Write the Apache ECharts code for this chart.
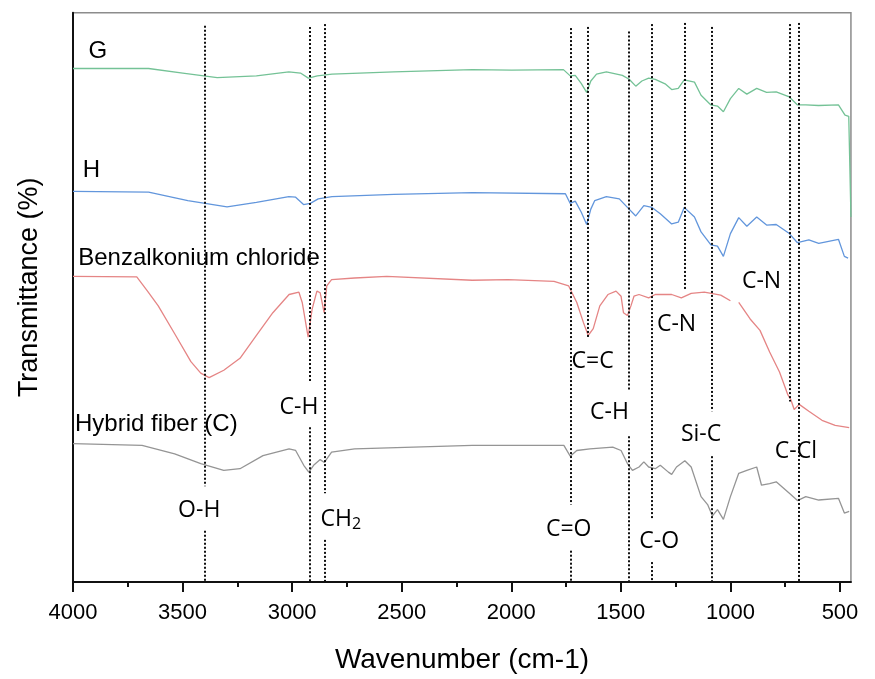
<!DOCTYPE html>
<html>
<head>
<meta charset="utf-8">
<script src="https://cdn.jsdelivr.net/npm/echarts@6/dist/echarts.min.js"></script>
<style>
html,body{margin:0;padding:0;background:#fff;overflow:hidden;}
#chart{width:875px;height:679px;}
</style>
</head>
<body>
<div id="chart"></div>
<script>
// ---- x axis ticks (wavenumber, cm-1) ----
const MAJOR_TICKS = [500, 1000, 1500, 2000, 2500, 3000, 3500, 4000];
const MINOR_TICKS = [750, 1250, 1750, 2250, 2750, 3250, 3750];

// ---- spectrum G ----
const G_WN = [4000,3655,3499,3342,3163,3015,2962,2926,2885,2818,2536,2178,1999,1762,1731,1708,1681,1656,1637,1611,1566,1493,1462,1432,1404,1373,1343,1298,1268,1238,1211,1164,1134,1089,1059,1032,1000,962,925,880,835,791,731,694,656,598,507,477,460,450];
const G_T  = [90.2,90.2,89.4,88.6,88.9,89.6,89.4,88.5,88.9,89.2,89.6,90.0,89.9,90.0,88.9,89.0,87.6,86.0,88.0,89.2,89.6,89.0,88.3,87.1,88.0,88.5,88.3,87.5,86.5,86.7,88.2,87.8,85.5,83.8,83.6,82.6,84.9,86.7,85.7,86.7,86.0,86.1,85.2,83.8,83.8,83.7,83.8,82.0,81.8,64.1];

// ---- spectrum H ----
const H_WN = [4000,3655,3476,3297,3163,3015,2984,2948,2917,2881,2818,2536,2178,1753,1731,1708,1681,1656,1637,1619,1566,1507,1470,1432,1395,1358,1320,1268,1238,1211,1164,1134,1089,1059,1032,1000,962,925,880,835,791,731,694,642,597,507,480,463];
const H_T  = [68.6,68.5,67.0,65.9,66.7,67.7,67.6,66.3,66.5,67.3,67.7,68.1,68.4,68.2,66.5,66.9,65.0,62.8,65.5,67.0,67.7,67.3,65.8,64.3,66.1,65.8,64.7,62.9,63.2,65.8,64.1,61.5,59.2,59.0,57.2,61.2,64.0,62.5,64.1,62.7,62.8,61.2,59.6,60.1,59.5,60.2,57.2,56.9];

// ---- Benzalkonium chloride ----
const B_WN = [4000,3709,3660,3611,3536,3462,3417,3379,3312,3238,3163,3088,3014,2969,2954,2947,2927,2909,2887,2872,2854,2842,2820,2715,2568,2178,2014,1805,1738,1701,1671,1649,1626,1596,1559,1522,1499,1488,1470,1454,1440,1417,1373,1343,1268,1224,1179,1119,1044,1000,980,962,910,865,821,776,738,724,709,686,642,582,522,458];
const B_T  = [53.7,53.6,51.1,48.5,43.6,38.7,36.7,35.9,37.2,39.3,43.3,47.3,50.5,50.9,49.1,49.4,43.0,47.9,51.1,50.8,47.3,52.0,53.1,53.4,53.7,53.0,53.1,52.8,52.0,49.1,45.6,43.3,44.5,48.5,50.5,51.1,50.2,47.3,46.8,48.5,50.2,50.5,49.9,50.5,50.5,49.9,50.7,50.9,50.4,49.4,null,49.1,46.2,44.2,40.4,36.9,32.9,32.0,30.3,31.2,30.0,28.4,27.5,27.1];

// ---- Hybrid fiber (C) ----
const C_WN = [4000,3685,3536,3417,3312,3238,3133,3014,2984,2947,2924,2902,2872,2853,2820,2715,2178,1760,1731,1701,1641,1537,1499,1470,1447,1417,1395,1373,1343,1320,1283,1268,1246,1208,1179,1134,1104,1082,1059,1032,1000,962,925,880,858,821,791,731,694,656,597,507,480,458];
const C_T  = [24.3,24.0,22.5,20.8,19.6,19.9,22.2,23.4,23.1,20.5,19.3,20.5,21.5,21.0,22.8,23.4,24.0,24.0,22.1,23.1,23.4,23.7,23.1,20.8,19.6,20.2,21.1,20.2,19.9,20.5,19.3,18.9,20.2,21.3,20.2,15.0,13.6,11.6,12.7,11.0,15.0,19.1,19.6,20.2,17.0,17.3,17.6,15.6,14.3,15.0,14.4,14.7,12.1,12.4];

// ---- peak marker lines: wavenumber and visible segments [from, to] ----
const PEAK_WN = [3400, 2920, 2850, 1730, 1650, 1465, 1358, 1210, 1085, 730, 690];
const PEAK_SEGMENTS = [
  [[97.7,16.8],[9.0,0]],
  [[97.5,35.2],[27.2,0]],
  [[98.0,15.6],[7.4,0]],
  [[97.3,13.6],[5.5,0]],
  [[97.5,43.0]],
  [[96.7,33.8],[25.6,0]],
  [[98.0,11.0],[3.5,0]],
  [[98.2,51.4]],
  [[97.5,30.0],[22.1,0]],
  [[98.0,31.7]],
  [[98.2,0]]
];

// ---- curve name labels ----
const NAME_CENTER = [['G',3887,93.2],['H',3916,72.3]];
const NAME_LEFT = [['Benzalkonium chloride',3976,56.9],['Hybrid fiber (C)',3991,27.7]];

// ---- band labels ----
const BAND_LABELS = [
  ['C-H',2969,30.6],['O-H',3424,12.6],['CH2',2778,11.0],['C=C',1629,38.8],
  ['C-H',1552,29.7],['C-N',1246,45.2],['C-N',858,52.8],['Si-C',1134,25.9],
  ['C-Cl',701,23.0],['C=O',1738,9.2],['C-O',1325,7.2]
];

const zip = (a, b) => a.map((v, i) => [v, b[i]]);

const markLineData = [];
PEAK_WN.forEach((wn, i) => {
  PEAK_SEGMENTS[i].forEach(seg => {
    markLineData.push([{coord: [wn, seg[0]]}, {coord: [wn, seg[1]]}]);
  });
});

const TXT = '#000000';
const SANS = 'Liberation Sans, Arial, sans-serif';

function lineSeries(name, wn, t, color) {
  return {
    name, type: 'line', data: zip(wn, t), showSymbol: false, symbol: 'none',
    lineStyle: {color, width: 1.3}, connectNulls: false, z: 3, silent: true
  };
}

const chart = echarts.init(document.getElementById('chart'), null, {renderer: 'canvas'});
chart.setOption({
  animation: false,
  backgroundColor: '#ffffff',
  grid: {left: 73, right: 10, top: 12.7, bottom: 89, show: true, borderColor: '#8c8c8c', borderWidth: 1.5, backgroundColor: 'transparent'},
  xAxis: [
    {
      type: 'value', min: 450, max: 4000, inverse: true, position: 'bottom',
      axisLine: {show: true, lineStyle: {color: '#111', width: 2}},
      axisTick: {show: true, customValues: MAJOR_TICKS, length: 10, lineStyle: {color: '#111', width: 2}},
      axisLabel: {show: true, customValues: MAJOR_TICKS, margin: 20, fontSize: 22, color: TXT, fontFamily: SANS, formatter: v => String(v)},
      splitLine: {show: false},
      name: 'Wavenumber (cm-1)', nameLocation: 'middle', nameGap: 64,
      nameTextStyle: {fontSize: 28, color: TXT, fontFamily: SANS}
    },
    {
      type: 'value', min: 450, max: 4000, inverse: true, position: 'bottom',
      axisLine: {show: false},
      axisTick: {show: true, customValues: MINOR_TICKS, length: 5, lineStyle: {color: '#111', width: 2}},
      axisLabel: {show: false},
      splitLine: {show: false}
    }
  ],
  yAxis: {
    type: 'value', min: 0, max: 100,
    axisLine: {show: true, lineStyle: {color: '#111', width: 2}},
    axisTick: {show: false}, axisLabel: {show: false}, splitLine: {show: false},
    name: 'Transmittance (%)', nameLocation: 'middle', nameRotate: 90, nameGap: 30,
    nameTextStyle: {fontSize: 27, color: TXT, fontFamily: SANS, padding: [0, 0, 0, 20]}
  },
  series: [
    lineSeries('G', G_WN, G_T, '#74c296'),
    lineSeries('H', H_WN, H_T, '#6296dc'),
    lineSeries('Benzalkonium chloride', B_WN, B_T, '#e58585'),
    lineSeries('Hybrid fiber (C)', C_WN, C_T, '#959595'),
    {
      type: 'scatter', symbolSize: 0, silent: true, z: 5,
      itemStyle: {opacity: 1},
      data: NAME_CENTER,
      label: {show: true, position: 'inside', opacity: 1, formatter: p => p.data[0], fontSize: 24, color: TXT, fontFamily: SANS},
      encode: {x: 1, y: 2},
      markLine: {
        silent: true, symbol: ['none', 'none'], label: {show: false},
        lineStyle: {color: '#111', width: 2, type: [2, 2], opacity: 1},
        data: markLineData
      }
    },
    {
      type: 'scatter', symbolSize: 0, silent: true, z: 5,
      itemStyle: {opacity: 1},
      data: NAME_LEFT, encode: {x: 1, y: 2},
      label: {show: true, position: 'right', distance: 0, opacity: 1, formatter: p => p.data[0], fontSize: 24, color: TXT, fontFamily: SANS}
    },
    {
      type: 'scatter', symbolSize: 0, silent: true, z: 5,
      itemStyle: {opacity: 1},
      data: BAND_LABELS, encode: {x: 1, y: 2},
      label: {
        show: true, position: 'inside', opacity: 1, color: TXT, fontFamily: 'Open Sans', fontSize: 23,
        formatter: p => p.data[0] === 'CH2' ? '{n|CH}{s|2}' : p.data[0],
        rich: {
          n: {fontSize: 23, fontFamily: 'Open Sans', color: TXT, verticalAlign: 'bottom'},
          s: {fontSize: 16, fontFamily: 'Open Sans', color: TXT, verticalAlign: 'bottom', padding: [0, 0, -2, 0]}
        }
      }
    }
  ]
});
</script>
</body>
</html>
